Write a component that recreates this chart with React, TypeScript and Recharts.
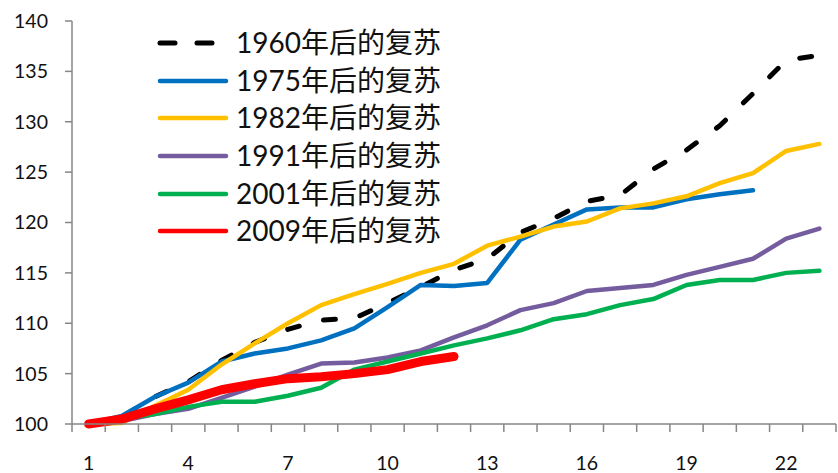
import { LineChart, Line, XAxis, YAxis } from "recharts";

const periods = [1, 2, 3, 4, 5, 6, 7, 8, 9, 10, 11, 12, 13, 14, 15, 16, 17, 18, 19, 20, 21, 22, 23];
const xLabelTicks = [1, 4, 7, 10, 13, 16, 19, 22];
const yTicks = [100, 105, 110, 115, 120, 125, 130, 135, 140];

const s1960 = [100, 100.7, 102.7, 104.2, 106.3, 108.1, 109.4, 110.3, 110.5, 112.0, 113.6, 115.3, 116.4, 119.0, 120.4, 122.1, 122.7, 125.3, 127.2, 129.6, 132.8, 136.1, 136.6];
const s1975 = [100, 100.8, 102.7, 104.1, 106.2, 107.0, 107.5, 108.3, 109.5, 111.6, 113.8, 113.7, 114.0, 118.3, 119.8, 121.3, 121.5, 121.5, 122.3, 122.8, 123.2];
const s1982 = [100, 100.1, 101.8, 103.4, 105.9, 108.0, 110.0, 111.8, 112.9, 113.9, 115.0, 115.9, 117.7, 118.6, 119.6, 120.1, 121.4, 121.9, 122.6, 123.9, 124.9, 127.1, 127.8];
const s1991 = [100, 100.3, 101.0, 101.5, 102.6, 103.7, 104.9, 106.0, 106.1, 106.6, 107.3, 108.6, 109.8, 111.3, 112.0, 113.2, 113.5, 113.8, 114.8, 115.6, 116.4, 118.4, 119.4];
const s2001 = [100, 100.5, 101.0, 101.7, 102.2, 102.2, 102.8, 103.6, 105.4, 106.2, 107.0, 107.8, 108.5, 109.3, 110.4, 110.9, 111.8, 112.4, 113.8, 114.3, 114.3, 115.0, 115.2];
const s2009 = [100, 100.5, 101.5, 102.4, 103.4, 104.0, 104.5, 104.7, 105.0, 105.4, 106.2, 106.7];

const series = [
  { key: "r1960", name: "1960年后的复苏", values: s1960, color: "#000000", width: 5, dash: "12 25" },
  { key: "r1975", name: "1975年后的复苏", values: s1975, color: "#0070C0", width: 4.5 },
  { key: "r1982", name: "1982年后的复苏", values: s1982, color: "#FFC000", width: 4.5 },
  { key: "r1991", name: "1991年后的复苏", values: s1991, color: "#745C9E", width: 4.5 },
  { key: "r2001", name: "2001年后的复苏", values: s2001, color: "#00B050", width: 4.5 },
  { key: "r2009", name: "2009年后的复苏", values: s2009, color: "#FF0000", width: 9 },
];

const data = periods.map((p, i) => {
  const row: Record<string, number | null> = { x: p };
  series.forEach((s) => {
    row[s.key] = i < s.values.length ? s.values[i] : null;
  });
  return row;
});

const boundaries = [...periods.map((p) => p - 0.5), periods[periods.length - 1] + 0.5];

const AXIS = "#868686";
const FONT = "Lato, 'Noto Sans CJK SC', sans-serif";

// legend sits inside the plot, top-left, like the original
function LegendBox() {
  return (
    <div style={{ position: "absolute", left: 156, top: 24, fontFamily: FONT, fontSize: 28, color: "#111" }}>
      {series.map((s) => (
        <div key={s.key} style={{ display: "flex", alignItems: "center", height: 37.7 }}>
          <svg width={76} height={10} style={{ marginRight: 4 }}>
            <line
              x1={4}
              y1={5}
              x2={70}
              y2={5}
              stroke={s.color}
              strokeWidth={s.key === "r1960" ? 5 : 4.5}
              strokeLinecap="round"
              strokeDasharray={s.dash ? "15 22" : undefined}
            />
          </svg>
          <span style={{ lineHeight: "37.7px", whiteSpace: "nowrap" }}>{s.name}</span>
        </div>
      ))}
    </div>
  );
}

export default function App() {
  return (
    <div style={{ position: "absolute", left: 0, top: 0, width: 838, height: 473, background: "#fff" }}>
      <LineChart width={838} height={473} data={data} margin={{ top: 21, right: 2, left: 0, bottom: 0 }}>
        <XAxis
          xAxisId={0}
          type="number"
          dataKey="x"
          domain={[0.5, 23.5]}
          ticks={boundaries}
          tickFormatter={() => ""}
          tickSize={8}
          height={10}
          stroke={AXIS}
          strokeWidth={1.5}
          interval={0}
        />
        <XAxis
          xAxisId={1}
          type="number"
          dataKey="x"
          domain={[0.5, 23.5]}
          ticks={xLabelTicks}
          axisLine={false}
          tickLine={false}
          tickSize={0}
          tickMargin={22}
          height={39}
          interval={0}
          tick={{ fill: "#111", fontSize: 19.5, fontFamily: FONT }}
        />
        <YAxis
          type="number"
          domain={[100, 140]}
          ticks={yTicks}
          width={72}
          tickSize={7}
          tickMargin={17}
          stroke={AXIS}
          strokeWidth={1.5}
          interval={0}
          tick={{ fill: "#111", fontSize: 19.5, fontFamily: FONT }}
        />
        {series.map((s) => (
          <Line
            key={s.key}
            xAxisId={0}
            dataKey={s.key}
            name={s.name}
            type="linear"
            stroke={s.color}
            strokeWidth={s.width}
            strokeDasharray={s.dash}
            strokeLinecap="round"
            strokeLinejoin="round"
            dot={false}
            activeDot={false}
            connectNulls={false}
            isAnimationActive={false}
          />
        ))}
      </LineChart>
      <LegendBox />
    </div>
  );
}
